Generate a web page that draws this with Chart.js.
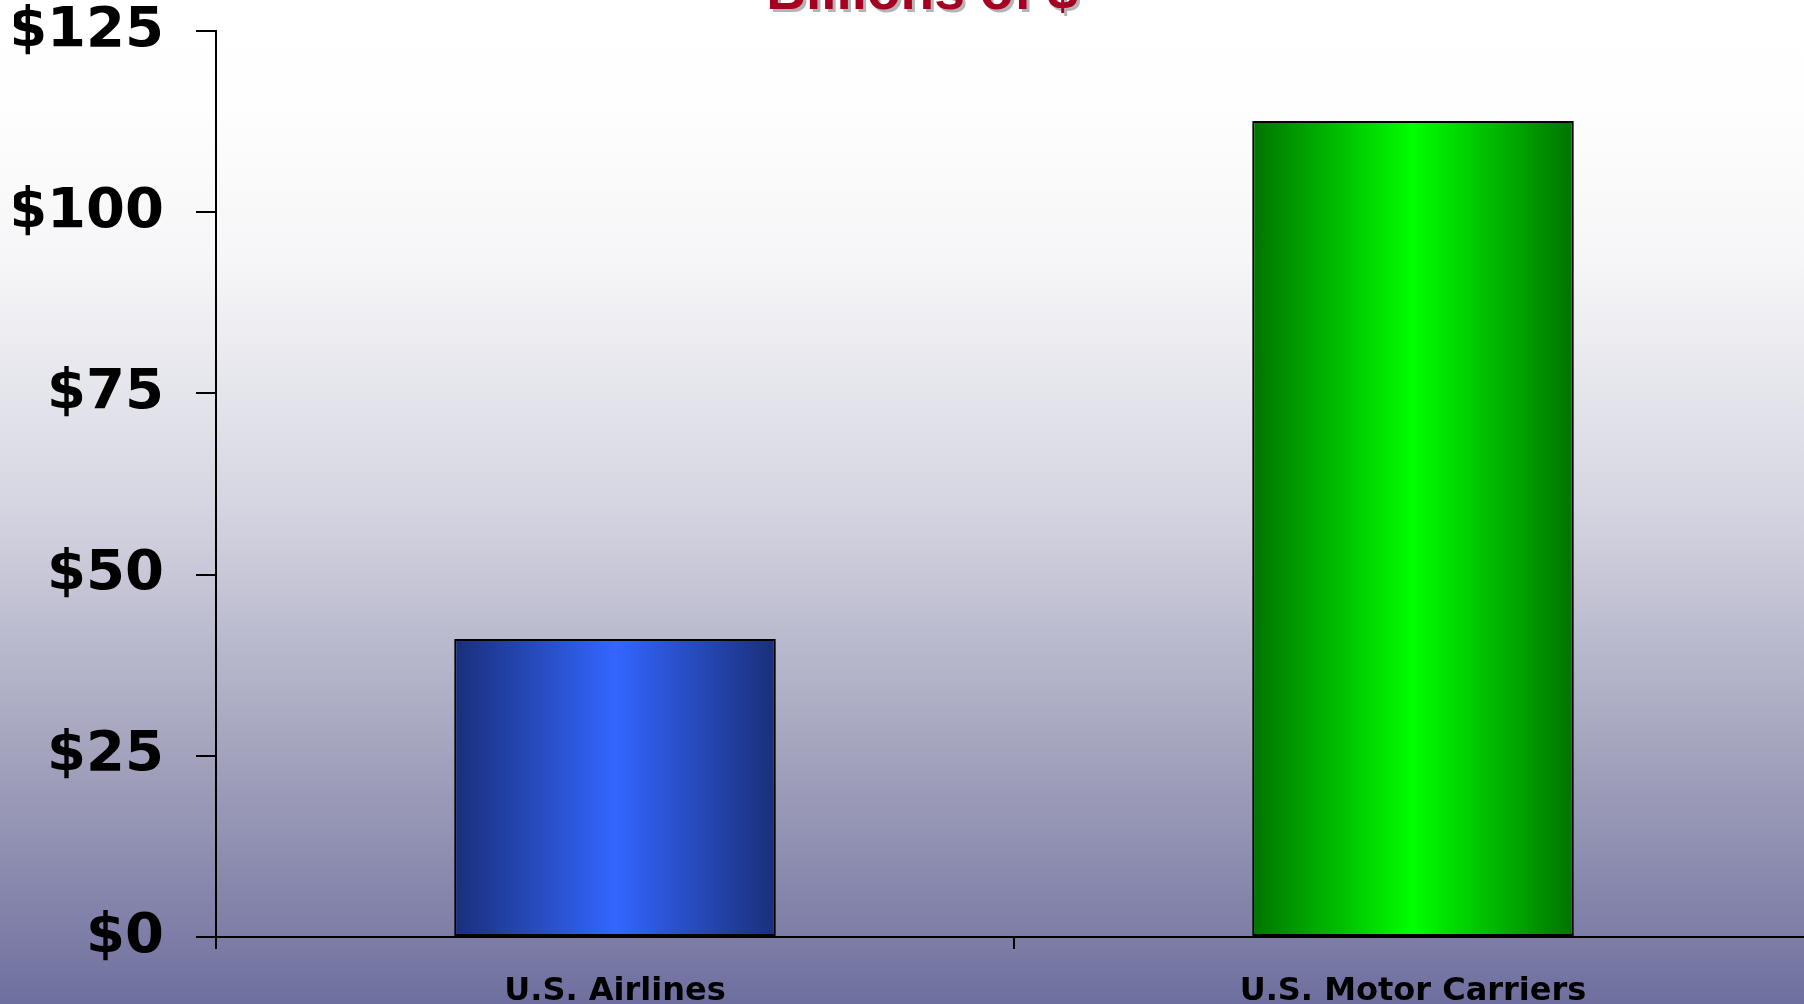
<!DOCTYPE html>
<html>
<head>
<meta charset="utf-8">
<script src="https://cdn.jsdelivr.net/npm/chart.js@4"></script>
<style>
    html, body {
        margin: 0;
        padding: 0;
        overflow: hidden;
        width: 1804px;
        height: 1004px;
    }
    body {
        background: linear-gradient(to bottom,
            #ffffff 0%, #fefefe 10%, #f6f6f8 26%, #d6d6e2 50%,
            #9d9db9 78%, #6f6f9f 100%);
    }
    #wrap {
        position: absolute;
        left: 0;
        top: 0;
        width: 1812px;
        height: 1004px;
    }
</style>
</head>
<body>
<div id="wrap"><canvas id="costChart" width="1812" height="1004"></canvas></div>
<script>
    const categories = ["U.S. Airlines", "U.S. Motor Carriers"];
    const costValues = [41.1, 112.6];
    const yTicks = [0, 25, 50, 75, 100, 125];

    // dark edge -> bright centre -> dark edge, one pair per bar
    const barShades = [
        ["#1a2f7a", "#3366ff"],
        ["#007300", "#00ff00"],
    ];

    const barGradients = {
        id: "barGradients",
        beforeDatasetsDraw(chart) {
            const ctx = chart.ctx;
            chart.getDatasetMeta(0).data.forEach((bar, i) => {
                const left = bar.x - bar.width / 2;
                const g = ctx.createLinearGradient(left, 0, left + bar.width, 0);
                g.addColorStop(0, barShades[i][0]);
                g.addColorStop(0.5, barShades[i][1]);
                g.addColorStop(1, barShades[i][0]);
                bar.options.backgroundColor = g;
            });
        },
    };

    const titleText = {
        id: "titleText",
        afterDraw(chart) {
            const ctx = chart.ctx;
            ctx.save();
            ctx.font = "bold 55px 'Liberation Sans', Arial, sans-serif";
            ctx.textAlign = "center";
            ctx.textBaseline = "alphabetic";
            ctx.fillStyle = "#b4b4b4";
            ctx.fillText("Billions of $", 925, 12);
            ctx.fillStyle = "#a50021";
            ctx.fillText("Billions of $", 922, 9);
            ctx.restore();
        },
    };

    const ctx = document.getElementById("costChart").getContext("2d");
    new Chart(ctx, {
        type: "bar",
        data: {
            labels: categories,
            datasets: [
                {
                    data: costValues,
                    backgroundColor: barShades.map((s) => s[1]),
                    borderColor: "#000000",
                    borderWidth: 2,
                    borderSkipped: false,
                    barPercentage: 0.403,
                    categoryPercentage: 1,
                },
            ],
        },
        options: {
            responsive: false,
            animation: false,
            layout: {
                autoPadding: false,
                padding: { left: 14, top: 31, right: 0, bottom: 0 },
            },
            plugins: {
                legend: { display: false },
                tooltip: { enabled: false },
            },
            scales: {
                x: {
                    afterFit(scale) {
                        scale.height = 67;
                    },
                    border: { color: "#000000", width: 2 },
                    grid: {
                        drawOnChartArea: false,
                        color: "#000000",
                        lineWidth: 2,
                        tickLength: 12,
                    },
                    ticks: {
                        color: "#000000",
                        padding: 23,
                        maxRotation: 0,
                        font: { family: "'DejaVu Sans', Verdana, sans-serif", weight: "bold", size: 32 },
                    },
                },
                y: {
                    min: yTicks[0],
                    max: yTicks[yTicks.length - 1],
                    afterBuildTicks(scale) {
                        scale.ticks = yTicks.map((v) => ({ value: v }));
                    },
                    afterFit(scale) {
                        scale.width = 202;
                        scale.paddingTop = 0;
                        scale.paddingBottom = 0;
                    },
                    border: { color: "#000000", width: 2 },
                    grid: {
                        drawOnChartArea: false,
                        color: "#000000",
                        lineWidth: 2,
                        tickLength: 20,
                    },
                    ticks: {
                        color: "#000000",
                        padding: 32,
                        font: { family: "'DejaVu Sans', Verdana, sans-serif", weight: "bold", size: 56 },
                        callback: (v) => "$" + v,
                    },
                },
            },
        },
        plugins: [barGradients, titleText],
    });
</script>
</body>
</html>
